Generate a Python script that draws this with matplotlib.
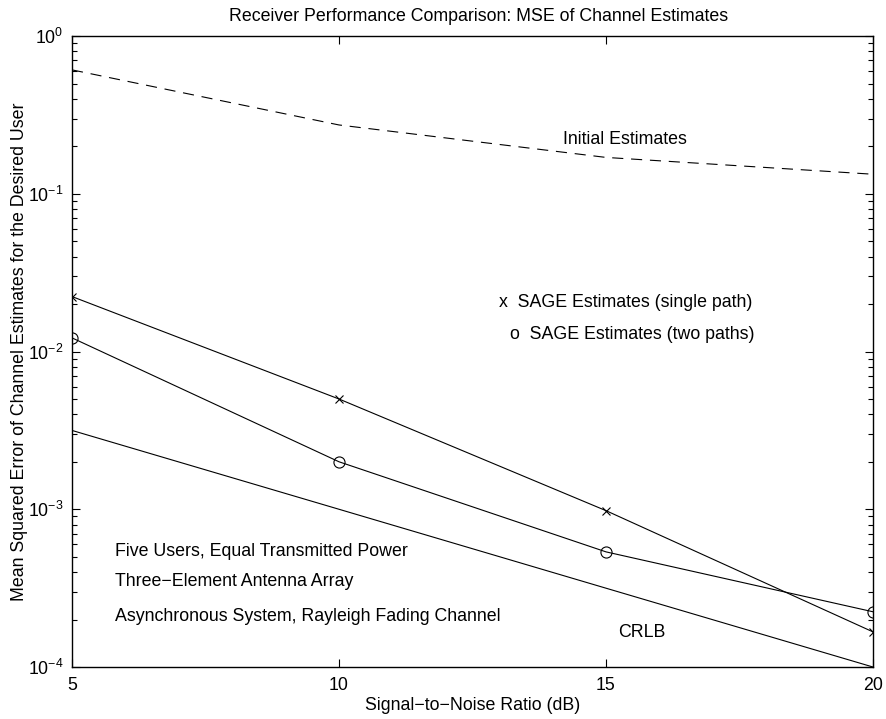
import matplotlib
matplotlib.use('Agg')
import matplotlib.pyplot as plt
from matplotlib.ticker import LogLocator, NullFormatter, FixedLocator

plt.rcParams['font.family'] = ['Liberation Sans', 'DejaVu Sans']
plt.rcParams['mathtext.default'] = 'regular'

snr = [5, 10, 15, 20]
initial_mse = [0.61, 0.273, 0.170, 0.133]
sage_single = [0.0223, 0.0050, 0.00098, 0.000167]
sage_two = [0.0122, 0.0020, 0.000537, 0.000224]
crlb = [0.00316, 0.0010, 0.000316, 0.0001]

fig = plt.figure(figsize=(8.86, 7.19), dpi=100)
ax = fig.add_axes([0.0813, 0.0723, 0.904, 0.8776])

lw = 0.8
ax.semilogy(snr, initial_mse, color='k', linestyle=(0, (10, 7)), linewidth=lw)
ax.semilogy(snr, sage_single, color='k', marker='x', markersize=6,
            markeredgewidth=0.8, linewidth=lw)
ax.semilogy(snr, sage_two, color='k', marker='o', markersize=8,
            markerfacecolor='none', markeredgewidth=0.8, linewidth=lw)
ax.semilogy(snr, crlb, color='k', linewidth=lw)

ax.set_xlim(5, 20)
ax.set_ylim(1e-4, 1)
ax.xaxis.set_major_locator(FixedLocator(snr))
ax.yaxis.set_major_locator(LogLocator(base=10, numticks=10))
ax.yaxis.set_minor_locator(LogLocator(base=10, subs=range(2, 10), numticks=50))
ax.yaxis.set_minor_formatter(NullFormatter())

fs = 12.8
ax.tick_params(which='both', direction='in', top=True, right=True,
               labelsize=fs, width=0.8, colors='k')
ax.tick_params(which='major', length=6)
ax.tick_params(which='minor', length=3.5)
ax.tick_params(axis='x', pad=7)
ax.tick_params(axis='y', pad=6)
for s in ax.spines.values():
    s.set_linewidth(1.0)

ax.set_title('Receiver Performance Comparison: MSE of Channel Estimates',
             fontsize=fs, pad=11, x=0.508)
ax.set_xlabel('Signal\u2212to\u2212Noise Ratio (dB)', fontsize=fs, labelpad=2)
ax.set_ylabel('Mean Squared Error of Channel Estimates for the Desired User',
              fontsize=fs, labelpad=0)

ax.text(14.2, 0.22, 'Initial Estimates', fontsize=fs, va='center')
ax.text(13.0, 0.0204, 'x  SAGE Estimates (single path)', fontsize=fs, va='center')
ax.text(13.2, 0.0128, 'o  SAGE Estimates (two paths)', fontsize=fs, va='center')
ax.text(5.81, 5.37e-4, 'Five Users, Equal Transmitted Power', fontsize=fs, va='center')
ax.text(5.81, 3.47e-4, 'Three\u2212Element Antenna Array', fontsize=fs, va='center')
ax.text(5.81, 2.09e-4, 'Asynchronous System, Rayleigh Fading Channel',
        fontsize=fs, va='center')
ax.text(15.23, 1.65e-4, 'CRLB', fontsize=fs, va='center')

fig.savefig('out.png', dpi=100)
